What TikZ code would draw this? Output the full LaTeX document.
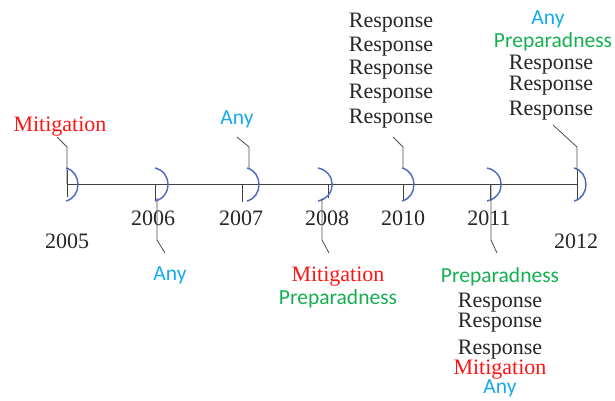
\documentclass[tikz,border=0pt]{standalone}
\usepackage{fontspec}
\setmainfont{Liberation Serif}
\newfontfamily\calfont{Carlito}
\definecolor{mitred}{RGB}{255,20,20}
\definecolor{anyblue}{RGB}{20,170,235}
\definecolor{prepgreen}{RGB}{20,175,80}
\definecolor{arcblue}{RGB}{80,110,190}
\begin{document}
\begin{tikzpicture}[x=1pt,y=-1pt,
  lbl/.style={anchor=base,inner sep=0pt,font=\fontsize{22pt}{24pt}\selectfont},
  resp/.style={lbl,text=black!85},
  mit/.style={lbl,text=mitred},
  anyl/.style={lbl,text=anyblue,font=\calfont\fontsize{21.5pt}{24pt}\selectfont},
  prep/.style={lbl,text=prepgreen,font=\calfont\fontsize{21.5pt}{24pt}\selectfont},
  yr/.style={lbl,text=black!85},
  axisline/.style={draw=black!75,line width=1pt},
  callout/.style={draw=black!70,line width=0.8pt},
  arcmark/.style={draw=arcblue,line width=1.5pt}]
\useasboundingbox (0,0) rectangle (615,400);

% axis
\coordinate (a0) at (67,184);
\coordinate (a1) at (577,184);
\draw[axisline] (a0) -- (a1);

% ticks
\foreach \n/\x/\t/\b in {t05/67/170/197,t06/155/184/200,t07/242/184/202,t08/328/184/198,t10/403/184/200,t11/490/184/200,t12/577/170/200}{
  \coordinate (\n a) at (\x,\t);
  \coordinate (\n b) at (\x,\b);
  \draw[axisline] (\n a) -- (\n b);
}

% arcs
\foreach \n/\x/\d in {r05/66/11,r06/155/12,r07/247/11,r08/318/13,r10/402/11,r11/487/13,r12/574/11}{
  \coordinate (\n t) at (\x,168);
  \coordinate (\n b) at (\x,201);
  \draw[arcmark] (\n t) .. controls (\x+\d*1.45,172) and (\x+\d*1.45,197) .. (\n b);
}

% up callouts
\foreach \n/\x/\s/\ex/\ey in {c05/67/184/57/137,c07/249/168/237/137,c10/403/168/393/137,c12/577/170/553/125}{
  \coordinate (\n s) at (\x,\s);
  \coordinate (\n k) at (\x,147);
  \coordinate (\n e) at (\ex,\ey);
  \draw[callout] (\n s) -- (\n k) -- (\n e);
}
% down callouts
\foreach \n/\x/\s/\ex in {c06/157/198/165,c08/322/198/329,c11/491/184/497}{
  \coordinate (\n s) at (\x,\s);
  \coordinate (\n k) at (\x,240);
  \coordinate (\n e) at (\ex,253);
  \draw[callout] (\n s) -- (\n k) -- (\n e);
}

% years
\node[yr] (y05) at (67,248) {2005};
\node[yr] (y06) at (153,225) {2006};
\node[yr] (y07) at (241,225) {2007};
\node[yr] (y08) at (327,225) {2008};
\node[yr] (y10) at (403,225) {2010};
\node[yr] (y11) at (489,225) {2011};
\node[yr] (y12) at (576,248) {2012};

% 2005
\node[mit] (m05) at (60,131) {Mitigation};
% 2006
\node[anyl] (any06) at (170,280) {Any};
% 2007
\node[anyl] (any07) at (237,124) {Any};
% 2008
\node[mit] (m08) at (338,281) {Mitigation};
\node[prep] (p08) at (338,304) {Preparadness};
% 2010
\node[resp] (r10a) at (391,27) {Response};
\node[resp] (r10b) at (391,51) {Response};
\node[resp] (r10c) at (391,74) {Response};
\node[resp] (r10d) at (391,98) {Response};
\node[resp] (r10e) at (391,123) {Response};
% 2011
\node[prep] (p11) at (500,282) {Preparadness};
\node[resp] (r11a) at (500,307) {Response};
\node[resp] (r11b) at (500,327) {Response};
\node[resp] (r11c) at (500,354) {Response};
\node[mit] (m11) at (500,374) {Mitigation};
\node[anyl] (any11) at (500,393) {Any};
% 2012
\node[anyl] (any12) at (548,24) {Any};
\node[prep] (p12) at (553,47) {Preparadness};
\node[resp] (r12a) at (551,69) {Response};
\node[resp] (r12b) at (551,90) {Response};
\node[resp] (r12c) at (551,115) {Response};
\end{tikzpicture}
\end{document}
